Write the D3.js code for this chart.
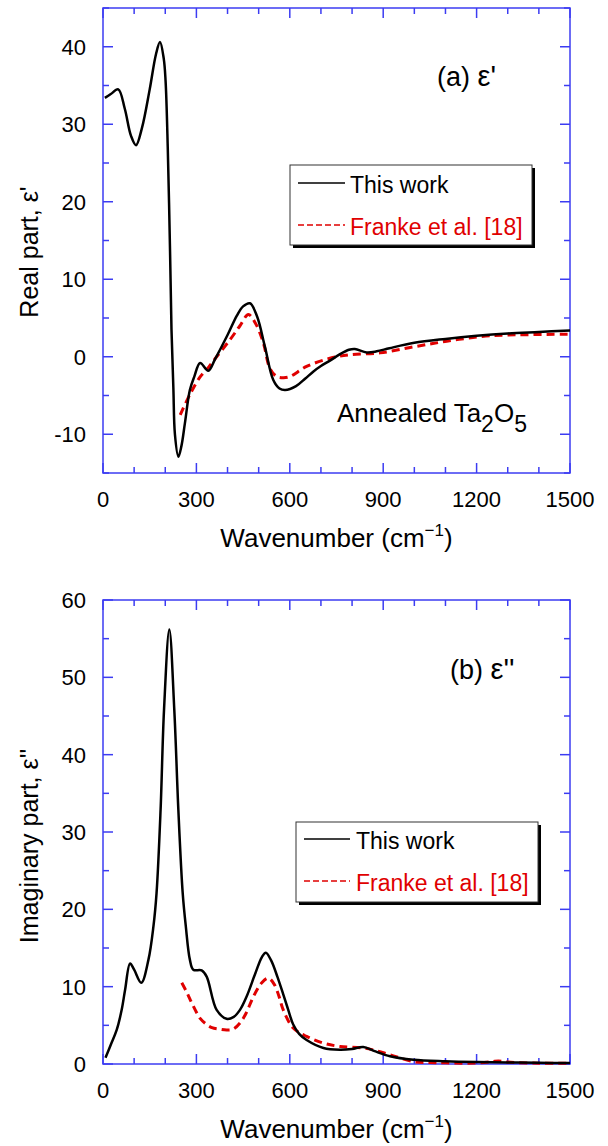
<!DOCTYPE html>
<html><head><meta charset="utf-8">
<script src="https://cdn.jsdelivr.net/npm/d3@7"></script>
<style>body{margin:0;background:#fff}svg{display:block}text{font-family:Arial,"Liberation Sans",sans-serif}</style>
</head><body><svg id="c" width="608" height="1146"></svg>
<script>
// ---------- data ----------
const realThisWn = [6,25,49,70,90,106,125,150,170,183,195,201,208,215,220,226,231,242,252,263,279,293,312,338,360,400,430,450,472,495,520,547,567,585,620,650,676,700,729,760,790,809,847,879,920,1000,1100,1200,1300,1400,1500];
const realThisVal = [33.4,33.9,34.5,32,28.5,27.3,29.5,34.5,39,40.6,38.5,35.6,27,14.3,3.5,-4,-10,-12.9,-11.5,-8.6,-4.3,-2.6,-0.8,-1.8,-0.3,2.8,5.3,6.5,6.9,5.2,1.3,-3.0,-4.1,-4.3,-3.8,-2.8,-1.9,-1.2,-0.5,0.3,0.9,1.0,0.56,0.7,1.1,1.8,2.3,2.7,3.0,3.2,3.4];
const realFrankeWn = [248,280,312,340,365,408,440,467,490,515,536,558,580,601,654,729,793,890,1000,1104,1211,1300,1500];
const realFrankeVal = [-7.5,-4.8,-2.6,-1.3,0,2.2,4.0,5.45,4.3,1.8,-1.5,-2.55,-2.7,-2.55,-1.25,-0.2,0.26,0.5,1.3,2.0,2.6,2.8,2.9];
const imagThisWn = [8,25,44,60,71,87,100,123,146,162,172,185,196,213,229,242,256,266,279,290,317,333,365,397,420,440,461,490,510,523,540,560,579,595,611,630,654,708,761,800,836,870,922,997,1100,1200,1300,1400,1500];
const imagThisVal = [0.8,2.5,4.4,7,9.6,13.0,12.2,10.5,13.5,17.8,22.1,32.9,45.8,56.2,45.8,32.9,22.1,17.8,13.5,12.2,12.1,11.3,7.0,5.85,6.1,7.0,8.7,11.8,13.8,14.4,13.4,11.3,9.0,7.0,5.1,3.9,3.1,2.07,1.85,1.95,2.2,1.7,1.0,0.55,0.35,0.25,0.2,0.15,0.12];
const imagFrankeWn = [253,270,285,300,312,330,350,375,397,418,440,460,483,510,531,550,565,579,611,654,708,761,836,870,922,997,1050,1100,1200,1250,1270,1300,1400,1500];
const imagFrankeVal = [10.5,9.2,7.9,6.7,5.9,5.2,4.7,4.5,4.4,4.5,5.3,6.6,8.7,10.5,11.1,10.3,8.8,7.0,4.65,3.57,2.7,2.27,2.07,1.8,1.2,0.3,0.2,0.15,0.12,0.3,0.4,0.25,0.1,0.1];
const xTicks = [0,300,600,900,1200,1500];
const realYTicks = [-10,0,10,20,30,40];
const imagYTicks = [0,10,20,30,40,50,60];
const legendLabels = ["This work","Franke et al. [18]"];

// ---------- drawing ----------
const svg = d3.select("#c");
const AX = "#3c3cf2";
const L = 103, R = 570;

function panel(o){
  const x = d3.scaleLinear().domain([0,1500]).range([L,R]);
  const y = d3.scaleLinear().domain(o.ydom).range([o.bottom,o.top]);
  const g = svg.append("g");
  const xMinor = d3.range(0,1501,100), yMinor = d3.range(o.ydom[0],o.ydom[1]+0.01,5);
  const tl = v => (v%300===0)?10:6;
  const tly = v => (v%10===0)?10:6;
  xMinor.forEach(v=>{
    g.append("line").attr("x1",x(v)).attr("x2",x(v)).attr("y1",o.bottom).attr("y2",o.bottom-tl(v)).attr("stroke",AX).attr("stroke-width",1.5);
    g.append("line").attr("x1",x(v)).attr("x2",x(v)).attr("y1",o.top).attr("y2",o.top+tl(v)).attr("stroke",AX).attr("stroke-width",1.5);
  });
  yMinor.forEach(v=>{
    g.append("line").attr("x1",L).attr("x2",L+tly(v)).attr("y1",y(v)).attr("y2",y(v)).attr("stroke",AX).attr("stroke-width",1.5);
    g.append("line").attr("x1",R).attr("x2",R-tly(v)).attr("y1",y(v)).attr("y2",y(v)).attr("stroke",AX).attr("stroke-width",1.5);
  });
  g.append("rect").attr("x",L).attr("y",o.top).attr("width",R-L).attr("height",o.bottom-o.top).attr("fill","none").attr("stroke",AX).attr("stroke-width",1.5);
  xTicks.forEach(v=>g.append("text").attr("x",x(v)).attr("y",o.bottom+34).attr("text-anchor","middle").attr("font-size",22).text(v));
  o.yticks.forEach(v=>g.append("text").attr("x",86).attr("y",y(v)+8).attr("text-anchor","end").attr("font-size",22).text(v));
  const xt = g.append("text").attr("x",(L+R)/2).attr("y",o.bottom+74).attr("text-anchor","middle").attr("font-size",26);
  xt.append("tspan").text("Wavenumber (cm");
  xt.append("tspan").attr("font-size",17).attr("dy",-11).text("\u22121");
  xt.append("tspan").attr("dy",11).text(")");
  g.append("text").attr("transform",`translate(38,${o.ytc}) rotate(-90)`).attr("text-anchor","middle").attr("font-size",25).text(o.ytitle);
  const line = d3.line().x(d=>x(d[0])).y(d=>y(d[1])).curve(d3.curveCatmullRom.alpha(0.5));
  g.append("path").datum(d3.zip(o.fw,o.fv)).attr("d",line).attr("fill","none").attr("stroke","#e00000").attr("stroke-width",3).attr("stroke-dasharray","8,5");
  g.append("path").datum(d3.zip(o.tw,o.tv)).attr("d",line).attr("fill","none").attr("stroke","#000").attr("stroke-width",2.5).attr("stroke-linejoin","round");
  const lt = g.append("text").attr("x",o.lab[0]).attr("y",o.lab[1]).attr("font-size",27);
  lt.append("tspan").text(o.label[0]);
  lt.append("tspan").attr("font-size",29).text(o.label[1]);
  const lg = o.leg;
  g.append("rect").attr("x",lg.x+3).attr("y",lg.y+3).attr("width",lg.w).attr("height",lg.h).attr("fill","#000");
  g.append("rect").attr("x",lg.x).attr("y",lg.y).attr("width",lg.w).attr("height",lg.h).attr("fill","#fff").attr("stroke","#333").attr("stroke-width",1);
  g.append("line").attr("x1",lg.lx1).attr("x2",lg.lx2).attr("y1",lg.y1).attr("y2",lg.y1).attr("stroke","#000").attr("stroke-width",1.5);
  g.append("line").attr("x1",lg.lx1).attr("x2",lg.lx2).attr("y1",lg.y2).attr("y2",lg.y2).attr("stroke","#e00000").attr("stroke-width",1.5).attr("stroke-dasharray","6,3");
  g.append("text").attr("x",lg.tx).attr("y",lg.y1+10).attr("font-size",23).text(legendLabels[0]);
  g.append("text").attr("x",lg.tx).attr("y",lg.y2+10).attr("font-size",23).attr("fill","#e00000").text(legendLabels[1]);
  return {g,x,y};
}

const p1 = panel({ydom:[-15,45],top:8,bottom:473,yticks:realYTicks,ytitle:"Real part, \u03b5'",ytc:252,
  tw:realThisWn,tv:realThisVal,fw:realFrankeWn,fv:realFrankeVal,label:["(a) ","\u03b5'"],lab:[437,86],
  leg:{x:290,y:165,w:242,h:80,lx1:298,lx2:345,y1:183,y2:225,tx:350}});
const ann = p1.g.append("text").attr("x",337).attr("y",422).attr("font-size",26);
ann.append("tspan").text("Annealed Ta");
ann.append("tspan").attr("dy",10).attr("font-size",23).text("2");
ann.append("tspan").attr("dy",-10).text("O");
ann.append("tspan").attr("dy",10).attr("font-size",23).text("5");

panel({ydom:[0,60],top:600,bottom:1064,yticks:imagYTicks,ytitle:"Imaginary part, \u03b5''",ytc:846,
  tw:imagThisWn,tv:imagThisVal,fw:imagFrankeWn,fv:imagFrankeVal,label:["(b) ","\u03b5''"],lab:[450,679],
  leg:{x:296,y:822,w:242,h:80,lx1:304,lx2:350,y1:839,y2:881,tx:356}});
</script></body></html>
